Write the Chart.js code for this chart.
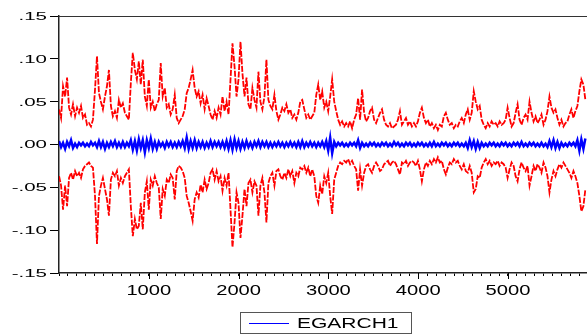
<!DOCTYPE html>
<html>
<head>
<meta charset="utf-8">
<title>EGARCH1</title>
<script src="https://cdn.jsdelivr.net/npm/chart.js@4.4.1/dist/chart.umd.min.js"></script>
<style>
  html, body { margin: 0; padding: 0; background: #fff; }
  #chart { display: block; }
</style>
</head>
<body>
<canvas id="chart" width="587" height="336"></canvas>
<script>
// Forecast series (blue) and the +/- 2 S.E. bands (red)
// one point roughly every 22 observations
const egarch1 = [
    .004,-.003,.002,-.005,.003,-.002,.005,-.004,.001,-.003,
    .002,-.001,.002,-.002,.001,-.002,.003,-.001,.002,-.003,
    .004,-.003,.003,-.005,.002,-.003,.003,-.002,.004,-.003,
    .002,-.003,.003,-.003,.002,-.002,.005,-.006,.004,-.007,
    .006,-.004,.005,-.009,.005,-.004,.007,-.005,.003,-.005,
    .003,-.002,.002,-.004,.003,-.002,.003,-.003,.002,-.003,
    .003,-.002,.004,-.004,.008,-.005,.004,-.004,.005,-.004,
    .003,-.003,.003,-.004,.002,-.003,.004,-.003,.003,-.002,
    .003,-.003,.003,-.004,.004,-.005,.005,-.006,.006,-.004,
    .004,-.005,.003,-.004,.004,-.003,.002,-.004,.003,-.002,
    .004,-.003,.003,-.002,.003,-.003,.002,-.003,.002,-.002,
    .003,-.002,.002,-.003,.002,-.002,.003,-.002,.002,-.003,
    .003,-.003,.004,-.003,.002,-.002,.003,-.002,.002,-.003,
    .002,-.002,.003,-.003,.004,-.007,.008,-.010,.003,-.002,
    .002,-.001,.002,-.002,.001,-.002,.002,-.001,.002,-.002,
    .005,-.004,.002,-.002,.001,-.002,.002,-.001,.002,-.002,
    .001,-.002,.002,-.001,.002,-.002,.001,-.002,.003,-.001,
    .002,-.002,.001,-.002,.002,-.001,.002,-.002,.001,-.002,
    .002,-.001,.002,-.002,.001,-.002,.002,-.002,.003,-.002,
    .001,-.002,.002,-.001,.002,-.002,.001,-.002,.002,-.001,
    .002,-.002,.001,-.002,.002,-.004,.005,-.003,.004,-.005,
    .003,-.004,.002,-.002,.001,-.002,.002,-.001,.002,-.002,
    .001,-.002,.002,-.001,.002,-.002,.001,-.002,.002,-.001,
    .002,-.002,.003,-.002,.001,-.002,.002,-.001,.002,-.002,
    .001,-.002,.002,-.002,.001,-.003,.004,-.003,.005,-.004,
    .003,-.004,.002,-.002,.001,-.002,.002,-.001,.002,-.002,
    .005,-.007,.006,-.005,.007
];

const upperBand = [
    .041,.031,.068,.056,.078,.043,.035,.047,.033,.043,
    .037,.045,.031,.035,.023,.025,.021,.029,.064,.103,
    .060,.050,.041,.056,.068,.087,.045,.033,.039,.031,
    .052,.043,.048,.037,.033,.029,.072,.107,.087,.076,
    .097,.070,.099,.056,.045,.076,.043,.050,.039,.047,
    .052,.095,.056,.066,.043,.047,.035,.041,.058,.031,
    .025,.029,.033,.041,.060,.066,.076,.087,.066,.056,
    .062,.048,.058,.041,.054,.045,.035,.029,.039,.031,
    .043,.035,.056,.039,.050,.035,.076,.118,.091,.056,
    .076,.120,.083,.056,.078,.047,.041,.066,.052,.043,
    .085,.050,.041,.056,.099,.052,.045,.041,.058,.039,
    .029,.035,.043,.039,.047,.037,.041,.031,.035,.029,
    .037,.050,.052,.041,.031,.035,.029,.033,.037,.058,
    .070,.052,.062,.043,.050,.039,.056,.076,.050,.039,
    .029,.023,.027,.021,.025,.021,.027,.019,.029,.035,
    .054,.029,.064,.037,.027,.031,.039,.043,.029,.025,
    .031,.037,.041,.029,.023,.021,.025,.019,.021,.023,
    .029,.039,.023,.027,.031,.023,.027,.021,
    .025,.021,.027,.037,.043,.031,.025,.029,.021,.025,
    .019,.023,.017,.023,.021,.033,.037,.029,.023,.025,
    .019,.023,.021,.027,.031,.025,.035,.041,.029,.037,
    .062,.050,.041,.045,.029,.023,.019,.025,.021,.027,
    .023,.025,.021,.027,.023,.025,.029,.043,.031,.021,
    .025,.037,.047,.029,.023,.031,.035,.029,.050,.037,
    .027,.033,.025,.029,.035,.023,.029,.039,.056,.043,
    .037,.041,.031,.023,.029,.021,.025,.027,.035,.041,
    .031,.039,.045,.062,.076,.070,.052
];

const lowerBand = [
    -.037,-.048,-.076,-.048,-.072,-.039,-.033,-.041,-.031,-.037,
    -.033,-.039,-.029,-.025,-.023,-.021,-.025,-.027,-.060,-.116,
    -.060,-.048,-.039,-.052,-.064,-.083,-.041,-.033,-.037,-.031,
    -.048,-.039,-.045,-.037,-.033,-.029,-.072,-.107,-.087,-.099,
    -.095,-.068,-.099,-.056,-.043,-.076,-.041,-.048,-.037,-.045,
    -.050,-.087,-.052,-.060,-.041,-.045,-.035,-.039,-.064,-.031,
    -.025,-.027,-.031,-.039,-.060,-.068,-.078,-.089,-.064,-.056,
    -.062,-.047,-.056,-.041,-.052,-.045,-.033,-.029,-.041,-.031,
    -.043,-.037,-.054,-.039,-.048,-.033,-.076,-.120,-.091,-.056,
    -.068,-.109,-.083,-.052,-.072,-.045,-.041,-.056,-.043,-.048,
    -.083,-.048,-.039,-.056,-.091,-.045,-.037,-.033,-.048,-.031,
    -.029,-.037,-.041,-.033,-.039,-.029,-.037,-.031,-.045,-.033,
    -.037,-.027,-.029,-.025,-.033,-.027,-.037,-.029,-.037,-.060,
    -.068,-.048,-.058,-.037,-.045,-.033,-.060,-.081,-.041,-.033,
    -.025,-.021,-.023,-.019,-.021,-.017,-.023,-.019,-.025,-.029,
    -.054,-.029,-.048,-.033,-.025,-.023,-.029,-.033,-.025,-.021,
    -.025,-.031,-.029,-.023,-.021,-.019,-.025,-.021,-.019,-.023,
    -.029,-.035,-.021,-.023,-.019,-.025,-.021,-.019,
    -.021,-.025,-.019,-.029,-.043,-.029,-.021,-.025,-.019,-.023,
    -.017,-.021,-.015,-.021,-.019,-.029,-.035,-.027,-.021,-.023,
    -.017,-.021,-.019,-.025,-.029,-.023,-.031,-.033,-.025,-.033,
    -.056,-.052,-.037,-.039,-.027,-.021,-.017,-.023,-.019,-.025,
    -.021,-.023,-.019,-.025,-.021,-.023,-.027,-.039,-.029,-.021,
    -.025,-.037,-.043,-.029,-.021,-.027,-.031,-.025,-.048,-.037,
    -.025,-.031,-.023,-.027,-.033,-.021,-.027,-.037,-.056,-.041,
    -.031,-.037,-.029,-.023,-.027,-.021,-.025,-.029,-.033,-.039,
    -.031,-.037,-.045,-.060,-.078,-.072,-.052
];

const yTicks = [-.15, -.10, -.05, 0, .05, .10, .15];
const xLabels = [1000, 2000, 3000, 4000, 5000];
const obsStep = 22.2;   // observations between two stored points
const xMax = 5880;

function toPoints(values) {
    return values.map((v, i) => ({ x: 1 + Math.round(i * obsStep), y: v }));
}

function fmtY(v) {
    const s = Math.abs(v).toFixed(2).replace(/^0/, '');
    return (v < -1e-9 ? '-' : '') + s;
}

// draws the frame top line, stretched tick labels and the boxed legend
const eviewsLook = {
    id: 'eviewsLook',
    afterDraw(chart) {
        const { ctx, chartArea, scales } = chart;
        const xs = scales.x, ys = scales.y;
        ctx.save();

        // top frame line
        ctx.strokeStyle = '#333';
        ctx.lineWidth = 1;
        ctx.beginPath();
        ctx.moveTo(chartArea.left, chartArea.top + 0.5);
        ctx.lineTo(chartArea.right, chartArea.top + 0.5);
        ctx.stroke();

        // longer marks on the thousands
        ctx.strokeStyle = '#000';
        xs.ticks.forEach(t => {
            if (t.value % 1000 === 0 && t.value > 0) {
                const px = Math.round(xs.getPixelForValue(t.value)) + 0.5;
                ctx.beginPath();
                ctx.moveTo(px, chartArea.bottom);
                ctx.lineTo(px, chartArea.bottom + 6);
                ctx.stroke();
            }
        });

        ctx.fillStyle = '#000';

        // y labels
        ctx.font = '10.5px "Liberation Sans", Arial, sans-serif';
        ctx.textAlign = 'right';
        ctx.textBaseline = 'middle';
        ys.ticks.forEach(t => {
            const py = ys.getPixelForValue(t.value);
            ctx.save();
            ctx.translate(47, py + 1);
            ctx.scale(1.95, 1);
            ctx.fillText(fmtY(t.value), 0, 0);
            ctx.restore();
        });

        // x labels
        ctx.font = '15.5px "Liberation Sans", Arial, sans-serif';
        ctx.textAlign = 'center';
        ctx.textBaseline = 'top';
        xs.ticks.forEach(t => {
            if (!xLabels.includes(t.value)) return;
            const px = xs.getPixelForValue(t.value);
            ctx.save();
            ctx.translate(px, chartArea.bottom + 10);
            ctx.scale(1.3, 1);
            ctx.fillText(String(t.value), 0, 0);
            ctx.restore();
        });

        // legend
        ctx.strokeStyle = '#555';
        ctx.lineWidth = 1;
        ctx.strokeRect(240.5, 312.5, 171, 21);
        ctx.strokeStyle = '#0000ff';
        ctx.lineWidth = 1.2;
        ctx.beginPath();
        ctx.moveTo(249, 323.5);
        ctx.lineTo(289, 323.5);
        ctx.stroke();
        ctx.font = '14px "Liberation Sans", Arial, sans-serif';
        ctx.textAlign = 'left';
        ctx.textBaseline = 'middle';
        ctx.save();
        ctx.translate(297, 324);
        ctx.scale(1.5, 1);
        ctx.fillText(chart.data.datasets[2].label, 0, 0);
        ctx.restore();

        ctx.restore();
    }
};

new Chart(document.getElementById('chart'), {
    type: 'line',
    data: {
        datasets: [
            { label: 'Upper', data: toPoints(upperBand), borderColor: '#ff0000', borderWidth: 1.8, borderDash: [6, 1.5] },
            { label: 'Lower', data: toPoints(lowerBand), borderColor: '#ff0000', borderWidth: 1.8, borderDash: [6, 1.5] },
            { label: 'EGARCH1', data: toPoints(egarch1), borderColor: '#0000ff', borderWidth: 2.5 }
        ]
    },
    options: {
        responsive: false,
        animation: false,
        events: [],
        layout: { padding: { top: 16, right: 0, left: 0, bottom: 0 } },
        elements: {
            point: { radius: 0 },
            line: { tension: 0, fill: false }
        },
        plugins: {
            legend: { display: false },
            tooltip: { enabled: false }
        },
        scales: {
            x: {
                type: 'linear',
                min: 0,
                max: xMax,
                afterFit: scale => { scale.height = 63; },
                border: { display: true, color: '#222', width: 1.5 },
                grid: { drawOnChartArea: false, drawTicks: true, tickLength: 3, color: '#000' },
                ticks: { display: false, stepSize: 100, includeBounds: false, autoSkip: false, maxTicksLimit: 100 }
            },
            y: {
                min: -0.15,
                max: 0.15,
                afterFit: scale => { scale.width = 59; },
                afterBuildTicks: scale => { scale.ticks = yTicks.map(v => ({ value: v })); },
                border: { display: true, color: '#222', width: 1.5 },
                grid: { drawOnChartArea: false, drawTicks: true, tickLength: 9, color: '#000' },
                ticks: { display: false }
            }
        }
    },
    plugins: [eviewsLook]
});
</script>
</body>
</html>
